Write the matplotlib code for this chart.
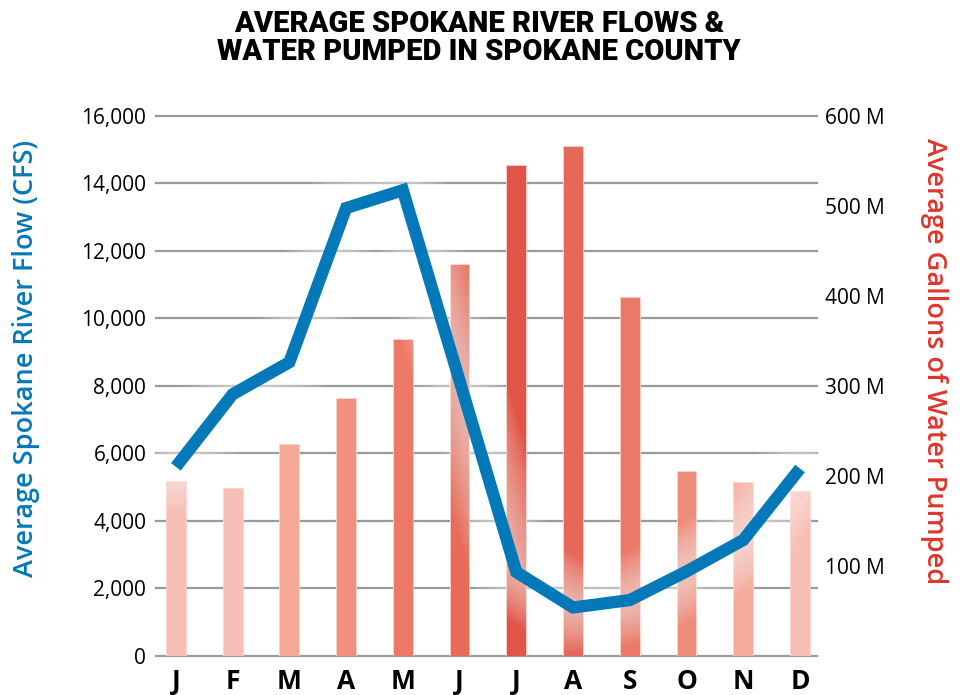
import matplotlib
matplotlib.use("Agg")
import matplotlib.pyplot as plt
from matplotlib.ticker import FuncFormatter, MultipleLocator

months = ["J", "F", "M", "A", "M", "J", "J", "A", "S", "O", "N", "D"]
# average river flow, cubic feet per second
river_flow_cfs = [5600, 7750, 8700, 13270, 13800, 8150, 2480, 1430, 1650, 2500, 3430, 5550]
# average water pumped, millions of gallons
water_pumped_m = [194, 186, 235, 287, 352, 436, 546, 567, 399, 205, 193, 183]

bar_colors = ["#f8bfb6", "#f8bfb6", "#f4a898", "#f0907e", "#ec7866", "#e86a58",
              "#e05546", "#e66858", "#ec7866", "#ef8d7b", "#f5ac9f", "#f8bfb6"]
flow_color = "#0479b9"
pumped_color = "#e0352b"
grid_color = "#9a9a9a"

plt.rcParams["font.family"] = ["Open Sans", "DejaVu Sans"]

fig = plt.figure(figsize=(9.8, 6.95), dpi=100)
ax = fig.add_axes([0.1592, 0.0565, 0.6745, 0.7766])
x = list(range(len(months)))

# base axes: flow scale, gridlines and left tick labels
ax.set_ylim(0, 16000)
ax.set_xlim(-0.35, 11.3)
ax.yaxis.set_major_locator(MultipleLocator(2000))
ax.yaxis.set_major_formatter(FuncFormatter(lambda v, _: f"{v:,.0f}"))
ax.grid(True, axis="y", color=grid_color, linewidth=1.6)
for gl in ax.get_ygridlines():
    gl.set_clip_on(False)
ax.tick_params(axis="y", length=0, pad=7, labelsize=15)
ax.tick_params(axis="x", length=0, pad=9, labelsize=19)
ax.set_xticks(x)
ax.set_xticklabels(months, fontweight="bold")
for side in ax.spines.values():
    side.set_visible(False)
ax.set_ylabel("Average Spokane River Flow (CFS)", color=flow_color,
              fontsize=19.5, fontweight="semibold")
ax.yaxis.set_label_coords(-0.1755, 0.55)

# bars for water pumped on the right-hand scale
ax_bars = ax.twinx()
ax_bars.set_ylim(0, 600)
ax_bars.yaxis.set_major_locator(MultipleLocator(100))
ax_bars.yaxis.set_major_formatter(FuncFormatter(lambda v, _: f"{v:.0f} M" if v > 0 else ""))
ax_bars.tick_params(axis="y", length=0, pad=6, labelsize=15)
ax_bars.bar(x, water_pumped_m, width=0.35, color=bar_colors,
            edgecolor="#fbd3cc", linewidth=0.6)
for side in ax_bars.spines.values():
    side.set_visible(False)
ax_bars.set_ylabel("Average Gallons of Water Pumped", color=pumped_color,
                   fontsize=19.5, fontweight="semibold", rotation=-90, va="center")
ax_bars.yaxis.set_label_coords(1.1765, 0.545)

# river flow line with a soft white halo on top of everything
ax_line = ax.twinx()
ax_line.set_ylim(0, 16000)
ax_line.set_yticks([])
for side in ax_line.spines.values():
    side.set_visible(False)
for i in range(16):
    ax_line.plot(x, river_flow_cfs, color="white", linewidth=64 - i * 3.4, alpha=0.045,
                 solid_capstyle="round", solid_joinstyle="round")
ax_line.plot(x, river_flow_cfs, color=flow_color, linewidth=8.8,
             solid_capstyle="butt", solid_joinstyle="miter")

fig.suptitle("AVERAGE SPOKANE RIVER FLOWS &\nWATER PUMPED IN SPOKANE COUNTY",
             x=479 / 980, y=1 - 37.5 / 695, va="center", fontsize=21,
             fontweight="black", family=["Roboto", "DejaVu Sans"],
             linespacing=1.0)

fig.savefig("out.png", dpi=100)
